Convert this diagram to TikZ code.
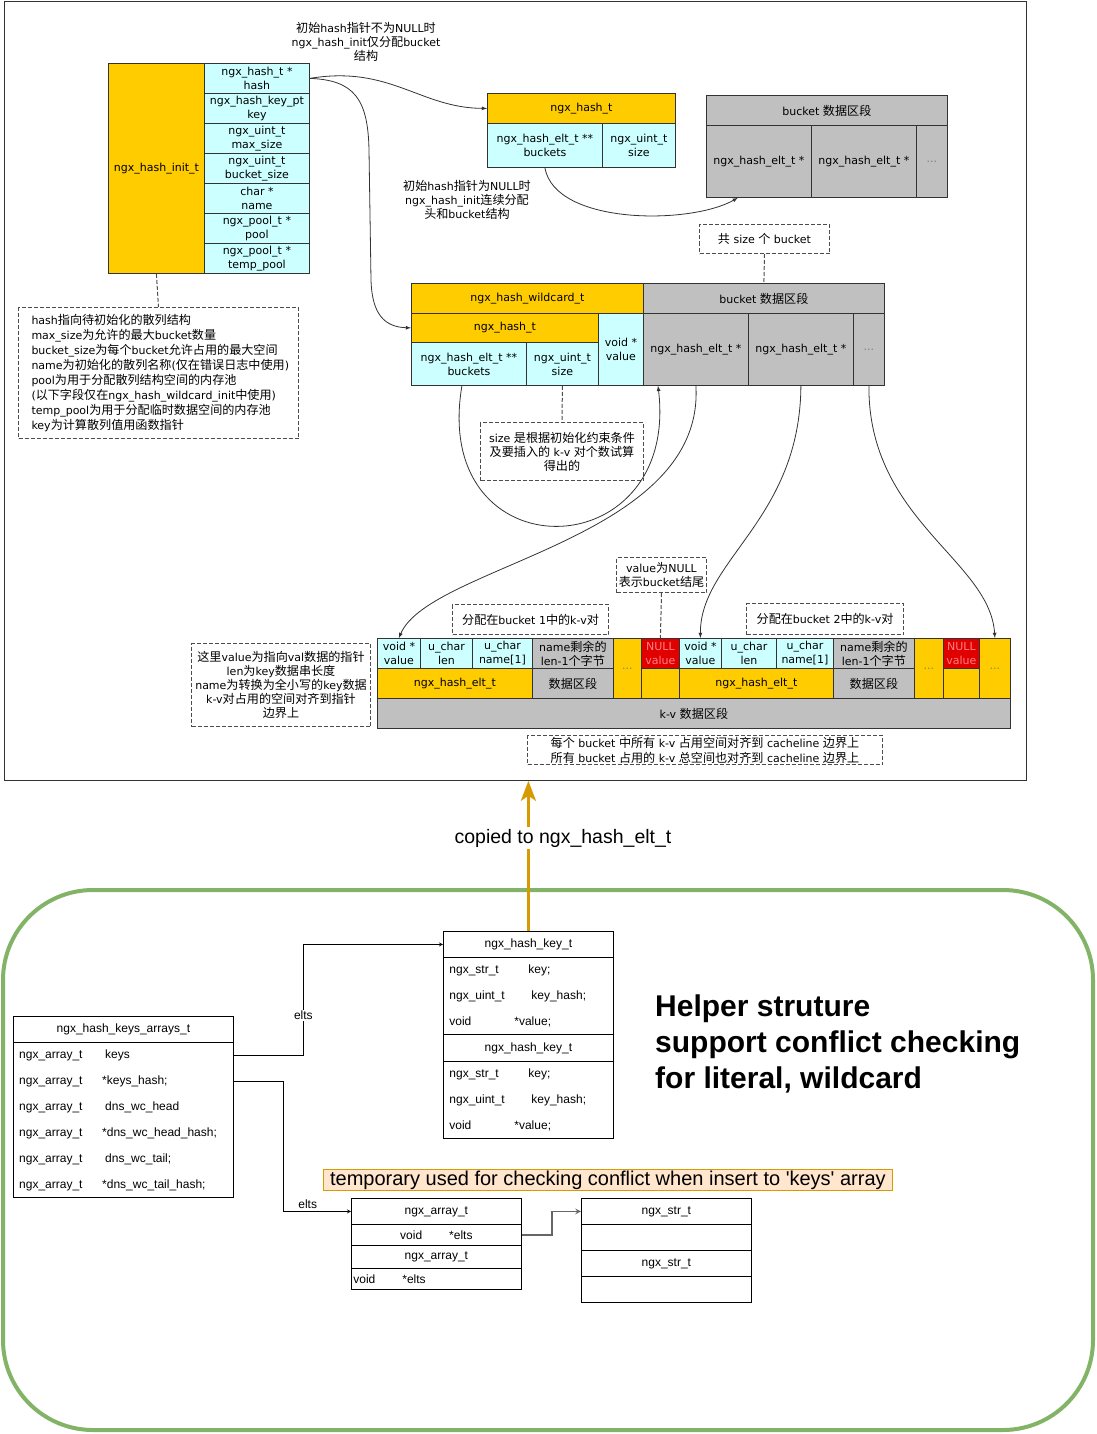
\documentclass[tikz,border=0pt]{standalone}
\usepackage{fontspec}
\usepackage{xcolor}
\usepackage{tikz}
\usetikzlibrary{positioning, arrows.meta}

\setmainfont{Liberation Sans}
\newfontfamily\dejavu{DejaVu Sans}
\newfontfamily\cjk[Scale=1.1]{Noto Sans CJK SC}

\chardef\hanclass=7
\count255="4E00
\loop
\XeTeXcharclass\count255=\hanclass
\advance\count255 by 1
\ifnum\count255<"A000 \repeat
\XeTeXinterchartoks 0 \hanclass = {\cjk}
\XeTeXinterchartoks 1 \hanclass = {\cjk}
\XeTeXinterchartoks 2 \hanclass = {\cjk}
\XeTeXinterchartoks 3 \hanclass = {\cjk}
\XeTeXinterchartoks 4095 \hanclass = {\cjk}
\XeTeXinterchartoks \hanclass 0 = {\dejavu}
\XeTeXinterchartoks \hanclass 4095 = {\dejavu}

\newcommand\topfont{\XeTeXinterchartokenstate=1 \fontsize{11}{14}\dejavu}
\newcommand\widefont{\XeTeXinterchartokenstate=1 \fontsize{11}{15}\dejavu}
\newcommand\smallfont{\fontsize{12}{14}\selectfont}

\definecolor{hashorange}{HTML}{FFCC00}
\definecolor{hashcyan}{HTML}{CCFFFF}
\definecolor{hashgray}{HTML}{C0C0C0}
\definecolor{hashred}{HTML}{E00000}
\definecolor{nulltext}{HTML}{FF8080}
\definecolor{arroworange}{HTML}{D79B00}
\definecolor{helpergreen}{HTML}{82B366}
\definecolor{notefill}{HTML}{FFE6CC}

\begin{document}
\begin{tikzpicture}[x=1pt,y=-1pt,>=latex]
	\tikzset{wh/.style 2 args={minimum width=#1pt,minimum height=#2pt}}
	\tikzstyle{cell}=[draw=black!80,line width=0.8pt,anchor=north west,inner sep=0pt,align=center,font=\topfont]
	\tikzstyle{ora}=[cell,fill=hashorange]
	\tikzstyle{cya}=[cell,fill=hashcyan]
	\tikzstyle{gry}=[cell,fill=hashgray]
	\tikzstyle{nul}=[cell,fill=hashred,text=nulltext]
	\tikzstyle{memo}=[cell,draw=black!70,dash pattern=on 4pt off 2pt,line width=1pt]
	\tikzstyle{tie}=[draw=black!70,dash pattern=on 4pt off 2pt,line width=1pt]
	\tikzstyle{ptr}=[->,draw=black!80,line width=0.8pt]
	\tikzstyle{txt}=[align=center,font=\topfont]
	\tikzstyle{dim}=[text=black!50]
	\tikzstyle{fld}=[draw=black,line width=0.8pt,anchor=north west,inner sep=0pt,font=\smallfont]
	\tikzstyle{fieldrow}=[anchor=north west,inner sep=0pt,inner xsep=6pt,font=\smallfont,wh={220}{26},text width=208pt,align=left]
	\tikzstyle{link}=[->,>=stealth,line width=0.8pt]

	\useasboundingbox (0,0) rectangle (1096,1434);
	\node[draw=black!80,line width=0.8pt,anchor=north west,inner sep=0pt,wh={1022}{779}] (topframe) at (4,1) {};

	\node[txt] (note1) at (366,42) {初始hash指针不为NULL时\\ngx\_hash\_init仅分配bucket\\结构};
	\node[ora,wh={96}{210}] (hashinit) at (108,63) {ngx\_hash\_init\_t};
	\node[cya,wh={105}{30}] (hashptr) at (204,63) {ngx\_hash\_t *\\hash};
	\node[cya,wh={105}{30}] (keyptr) at (204,93) {ngx\_hash\_key\_pt\\key};
	\node[cya,wh={105}{30}] (maxsize) at (204,123) {ngx\_uint\_t\\max\_size};
	\node[cya,wh={105}{30}] (bsize) at (204,153) {ngx\_uint\_t\\bucket\_size};
	\node[cya,wh={105}{30}] (nameptr) at (204,183) {char *\\name};
	\node[cya,wh={105}{30}] (poolptr) at (204,213) {ngx\_pool\_t *\\pool};
	\node[cya,wh={105}{30}] (tpoolptr) at (204,243) {ngx\_pool\_t *\\temp\_pool};

	\node[ora,wh={188}{30}] (hasht) at (487,93) {ngx\_hash\_t};
	\node[cya,wh={115}{44}] (hbuckets) at (487,123) {ngx\_hash\_elt\_t **\\buckets};
	\node[cya,wh={73}{44}] (hsize) at (602,123) {ngx\_uint\_t\\size};

	\node[gry,wh={241}{30}] (bhead) at (706,95) {bucket 数据区段};
	\node[gry,wh={105}{72}] (belt1) at (706,125) {ngx\_hash\_elt\_t *};
	\node[gry,wh={105}{72}] (belt2) at (811,125) {ngx\_hash\_elt\_t *};
	\node[gry,dim,wh={31}{72}] (bdots) at (916,125) {...};

	\node[txt] (note2) at (467,200) {初始hash指针为NULL时\\ngx\_hash\_init连续分配\\头和bucket结构};
	\node[memo,wh={130}{29}] (cntnote) at (699,224) {共 size 个 bucket};

	\node[ora,wh={232}{30}] (wchead) at (411,283) {ngx\_hash\_wildcard\_t};
	\node[ora,wh={187}{29}] (wchash) at (411,313) {ngx\_hash\_t};
	\node[cya,wh={115}{43}] (wbuckets) at (411,342) {ngx\_hash\_elt\_t **\\buckets};
	\node[cya,wh={72}{43}] (wsize) at (526,342) {ngx\_uint\_t\\size};
	\node[cya,wh={45}{72}] (wvalue) at (598,313) {void *\\value};
	\node[gry,wh={241}{30}] (wbhead) at (643,283) {bucket 数据区段};
	\node[gry,wh={105}{72}] (welt1) at (643,313) {ngx\_hash\_elt\_t *};
	\node[gry,wh={105}{72}] (welt2) at (748,313) {ngx\_hash\_elt\_t *};
	\node[gry,dim,wh={31}{72}] (wdots) at (853,313) {...};

	\node[memo,wh={280}{131},align=left,text width=254pt,inner xsep=13pt,font=\widefont] (initnote) at (18,307) {hash指向待初始化的散列结构\\max\_size为允许的最大bucket数量\\bucket\_size为每个bucket允许占用的最大空间\\name为初始化的散列名称(仅在错误日志中使用)\\pool为用于分配散列结构空间的内存池\\(以下字段仅在ngx\_hash\_wildcard\_init中使用)\\temp\_pool为用于分配临时数据空间的内存池\\key为计算散列值用函数指针};
	\node[memo,wh={163}{58}] (sizenote) at (480,422) {size 是根据初始化约束条件\\及要插入的 k-v 对个数试算\\得出的};

	\node[memo,wh={90}{35}] (nullnote) at (616,557) {value为NULL\\表示bucket结尾};
	\node[memo,wh={156}{30}] (b1note) at (452,604) {分配在bucket 1中的k-v对};
	\node[memo,wh={157}{31}] (b2note) at (746,603) {分配在bucket 2中的k-v对};
	\node[memo,wh={179}{83}] (eltnote) at (191,643) {这里value为指向val数据的指针\\len为key数据串长度\\name为转换为全小写的key数据\\k-v对占用的空间对齐到指针\\边界上};

	\node[cya,wh={43}{30}] (kv1val) at (377,638) {void *\\value};
	\node[cya,wh={52}{30}] (kv1len) at (420,638) {u\_char\\len};
	\node[cya,wh={60}{30}] (kv1name) at (472,638) {u\_char\\name[1]};
	\node[gry,wh={81}{30}] (kv1rest) at (532,638) {name剩余的\\len-1个字节};
	\node[ora,wh={155}{30}] (kv1elt) at (377,668) {ngx\_hash\_elt\_t};
	\node[gry,wh={81}{30}] (kv1data) at (532,668) {数据区段};
	\node[ora,dim,wh={28}{60}] (kvdots1) at (613,638) {...};
	\node[nul,wh={38}{30}] (kvnull1) at (641,638) {NULL\\value};
	\node[ora,wh={38}{30}] (kvpad1) at (641,668) {};
	\node[cya,wh={42}{30}] (kv2val) at (679,638) {void *\\value};
	\node[cya,wh={55}{30}] (kv2len) at (721,638) {u\_char\\len};
	\node[cya,wh={57}{30}] (kv2name) at (776,638) {u\_char\\name[1]};
	\node[gry,wh={81}{30}] (kv2rest) at (833,638) {name剩余的\\len-1个字节};
	\node[ora,wh={154}{30}] (kv2elt) at (679,668) {ngx\_hash\_elt\_t};
	\node[gry,wh={81}{30}] (kv2data) at (833,668) {数据区段};
	\node[ora,dim,wh={29}{60}] (kvdots2) at (914,638) {...};
	\node[nul,wh={36}{30}] (kvnull2) at (943,638) {NULL\\value};
	\node[ora,wh={36}{30}] (kvpad2) at (943,668) {};
	\node[ora,dim,wh={31}{60}] (kvdots3) at (979,638) {...};
	\node[gry,wh={633}{30}] (kvarea) at (377,698) {k-v 数据区段};
	\node[memo,wh={355}{29},font=\widefont] (cachenote) at (527,735) {每个 bucket 中所有 k-v 占用空间对齐到 cacheline 边界上\\所有 bucket 占用的 k-v 总空间也对齐到 cacheline 边界上};

	\draw[tie] (hashinit.south) -- (initnote.north);
	\draw[tie] (cntnote.south) -- (wbhead.north);
	\draw[tie] (wsize.south) -- (sizenote.north);
	\draw[tie] (nullnote.south) -- (kvnull1.north);

	\draw[ptr] (hashptr.east) .. controls (390,65) and (420,108) .. (hasht.west);
	\draw[ptr] (hashptr.east) .. controls (355,80) and (368,100) .. (369,150) -- (371,280) .. controls (372,315) and (385,327) .. (wchash.west);
	\draw[ptr] (hbuckets.south) .. controls (555,225) and (690,225) .. (belt1.240);
	\draw[ptr] ([xshift=-7pt]wbuckets.south) .. controls (430,575) and (680,570) .. ([xshift=15pt]welt1.south west);
	\draw[ptr] (welt1.south) .. controls (705,540) and (430,565) .. (kv1val.north);
	\draw[ptr] (welt2.south) .. controls (800,520) and (700,560) .. (kv2val.north);
	\draw[ptr] (wdots.south) .. controls (868,520) and (990,560) .. (kvdots3.north);

	\draw[helpergreen,line width=4pt,rounded corners=90pt] (3,890) rectangle (1093,1430);

	\node[fld,wh={170}{26}] (keyhead) at (443,931) {ngx\_hash\_key\_t};
	\node[fld,wh={170}{77},text width=158pt,inner xsep=6pt,align=left,font=\fontsize{12}{26}\selectfont] (keybody) at (443,957) {\makebox[79pt][l]{ngx\_str\_t}key;\\\makebox[82pt][l]{ngx\_uint\_t}key\_hash;\\\makebox[65pt][l]{void}*value;};
	\node[fld,wh={170}{27}] (keyhead2) at (443,1034) {ngx\_hash\_key\_t};
	\node[fld,wh={170}{77},text width=158pt,inner xsep=6pt,align=left,font=\fontsize{12}{26}\selectfont] (keybody2) at (443,1061) {\makebox[79pt][l]{ngx\_str\_t}key;\\\makebox[82pt][l]{ngx\_uint\_t}key\_hash;\\\makebox[65pt][l]{void}*value;};

	\draw[-{Stealth[length=20pt,width=15pt,inset=5pt]},arroworange,line width=3pt] (keyhead.north) -- (keyhead.north |- topframe.south);
	\node[fill=white,inner sep=2pt,font=\fontsize{19.5}{22}\selectfont] (copylbl) at (563,838) {copied to ngx\_hash\_elt\_t};

	\node[fld,wh={220}{26}] (kahead) at (13,1016) {ngx\_hash\_keys\_arrays\_t};
	\node[fld,wh={220}{155}] (kabody) at (13,1042) {};
	\node[fieldrow] (kaKeys) at (13,1042) {\makebox[86pt][l]{ngx\_array\_t}keys};
	\node[fieldrow] (kaKeysHash) at (13,1068) {\makebox[83pt][l]{ngx\_array\_t}*keys\_hash;};
	\node[fieldrow] (kaHead) at (13,1094) {\makebox[86pt][l]{ngx\_array\_t}dns\_wc\_head};
	\node[fieldrow] (kaHeadHash) at (13,1120) {\makebox[83pt][l]{ngx\_array\_t}*dns\_wc\_head\_hash;};
	\node[fieldrow] (kaTail) at (13,1146) {\makebox[86pt][l]{ngx\_array\_t}dns\_wc\_tail;};
	\node[fieldrow] (kaTailHash) at (13,1172) {\makebox[83pt][l]{ngx\_array\_t}*dns\_wc\_tail\_hash;};

	\node[anchor=west,inner sep=0pt,align=left,font=\bfseries\fontsize{30}{36}\selectfont] (helper) at (655,1044) {Helper struture\\support conflict checking\\for literal, wildcard};

	\node[fld,draw=arroworange,fill=notefill,wh={569}{21},font=\fontsize{20}{21}\selectfont] (tmpnote) at (323,1169) {temporary used for checking conflict when insert to \textquotesingle keys\textquotesingle\ array};

	\node[fld,wh={170}{26}] (arrhead) at (351,1198) {ngx\_array\_t};
	\node[fld,wh={170}{21}] (arrelts) at (351,1224) {\makebox[49pt][l]{void}*elts};
	\node[fld,wh={170}{23}] (arrhead2) at (351,1245) {ngx\_array\_t};
	\node[fld,wh={170}{21},text width=166pt,inner xsep=2pt,align=left] (arrelts2) at (351,1268) {\makebox[49pt][l]{void}*elts};

	\node[fld,wh={170}{26}] (strhead1) at (581,1198) {ngx\_str\_t};
	\node[fld,wh={170}{26}] (strbody1) at (581,1224) {};
	\node[fld,wh={170}{26}] (strhead2) at (581,1250) {ngx\_str\_t};
	\node[fld,wh={170}{26}] (strbody2) at (581,1276) {};

	\draw[link] (kaKeys.east) -- ++(70,0) |- node[pos=0.18,fill=white,inner sep=1pt,font=\smallfont] (eltsA) {elts} (keyhead.west);
	\draw[link] (kaKeysHash.east) -- ++(50,0) |- node[pos=0.68,above,inner sep=2pt,font=\smallfont] (eltsB) {elts} (arrhead.west);
	\draw[link,black!60,line width=1.5pt] (arrelts.east) -- ++(30,0) |- (strhead1.west);
\end{tikzpicture}
\end{document}
